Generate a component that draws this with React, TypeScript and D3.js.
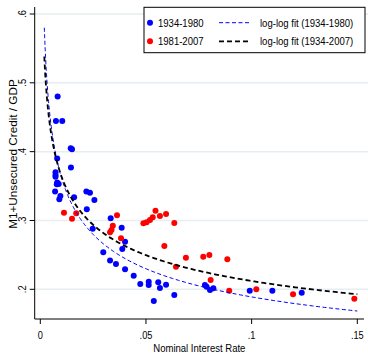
import React from "react";
import * as d3 from "d3";

const W = 368;
const H = 354;

// 1934-1980 (blue)
const blueX = [0.0082, 0.0074, 0.0104, 0.0144, 0.015, 0.008, 0.0145, 0.0072, 0.0072, 0.0072, 0.008, 0.0087, 0.0078, 0.007, 0.0095, 0.009, 0.016, 0.0218, 0.0235, 0.0256, 0.022, 0.0333, 0.0385, 0.0248, 0.0401, 0.0388, 0.0298, 0.033, 0.0358, 0.0401, 0.0442, 0.0473, 0.0513, 0.0513, 0.0558, 0.0566, 0.0537, 0.0595, 0.0634, 0.0779, 0.0787, 0.0803, 0.0819, 0.0991, 0.1098, 0.1237];
const blueY = [0.48, 0.4446, 0.4446, 0.405, 0.4035, 0.39, 0.3768, 0.37, 0.366, 0.3637, 0.355, 0.353, 0.3526, 0.342, 0.3356, 0.3308, 0.3337, 0.342, 0.3404, 0.3298, 0.3163, 0.3032, 0.2895, 0.288, 0.269, 0.2586, 0.254, 0.242, 0.2368, 0.229, 0.2198, 0.2077, 0.211, 0.2063, 0.2102, 0.2019, 0.183, 0.2067, 0.1917, 0.2063, 0.2038, 0.199, 0.2015, 0.198, 0.198, 0.195];

// 1981-2007 (red)
const redX = [0.0112, 0.015, 0.017, 0.0363, 0.0343, 0.0337, 0.033, 0.0382, 0.0488, 0.0503, 0.0519, 0.0532, 0.0545, 0.0566, 0.0595, 0.0634, 0.0587, 0.0642, 0.0689, 0.0771, 0.08, 0.0885, 0.0806, 0.0894, 0.1022, 0.1196, 0.1486];
const redY = [0.3113, 0.3026, 0.3105, 0.3076, 0.2925, 0.286, 0.2828, 0.2741, 0.2959, 0.2975, 0.3007, 0.3047, 0.3142, 0.3065, 0.3094, 0.2965, 0.263, 0.2329, 0.246, 0.2474, 0.2499, 0.2436, 0.2135, 0.198, 0.2, 0.1927, 0.1863];

// log-log fits: ln(y) = a + b ln(x)
const fitBlue = { a: -2.318, b: -0.283 };
const fitAll = { a: -2.092, b: -0.235 };
const fitRange = [0.0019, 0.15];

const xTicks = [0, 0.05, 0.1, 0.15];
const xTickLabels = ["0", ".05", ".1", ".15"];
const yTicks = [0.2, 0.3, 0.4, 0.5, 0.6];
const yTickLabels = [".2", ".3", ".4", ".5", ".6"];

const FONT = "'Liberation Sans', Arial, sans-serif";
const SX = 0.83;

function T(props: { x: number; y: number; rot?: boolean; sx?: number; anchor?: string; size?: number; children: React.ReactNode }) {
  const { x, y, rot, sx = SX, anchor = "start", size = 11.5, children } = props;
  const tr = `translate(${x},${y})${rot ? " rotate(-90)" : ""} scale(${sx},1)`;
  return (
    <text transform={tr} textAnchor={anchor} fontSize={size} fill="#000">
      {children}
    </text>
  );
}

export default function App() {
  const x = d3.scaleLinear().domain([0, 0.15]).range([40.3, 357.3]);
  const y = d3.scaleLinear().domain([0.2, 0.6]).range([289.3, 14]);
  const xLeft = 34.7;
  const xRight = 364;
  const yBottom = 319;
  const yTop = 7;

  const curve = (f: { a: number; b: number }) => {
    const xs = d3.range(0, 201).map((i) => {
      const t = i / 200;
      return Math.exp(Math.log(fitRange[0]) + t * (Math.log(fitRange[1]) - Math.log(fitRange[0])));
    });
    return d3
      .line<number>()
      .x((d) => x(d))
      .y((d) => y(Math.exp(f.a + f.b * Math.log(d))))(xs) as string;
  };

  return (
    <svg width={W} height={H} style={{ position: "absolute", left: 0, top: 0, background: "#fff" }} fontFamily={FONT}>
      <rect x={0} y={0} width={W} height={H} fill="#fff" />
      {yTicks.map((t) => (
        <line key={"g" + t} x1={xLeft} x2={W} y1={y(t)} y2={y(t)} stroke="#e6eef1" strokeWidth={1.5} />
      ))}
      {blueX.map((v, i) => (
        <circle key={"b" + i} cx={x(v)} cy={y(blueY[i])} r={3} fill="#0000ff" />
      ))}
      {redX.map((v, i) => (
        <circle key={"r" + i} cx={x(v)} cy={y(redY[i])} r={3} fill="#ff0000" />
      ))}
      <path d={curve(fitBlue)} fill="none" stroke="#0000ff" strokeWidth={1} strokeDasharray="4,2.5" />
      <path d={curve(fitAll)} fill="none" stroke="#000" strokeWidth={1.8} strokeDasharray="5,3" />
      <line x1={xLeft} x2={xLeft} y1={yTop} y2={yBottom} stroke="#000" strokeWidth={1} />
      <line x1={xLeft} x2={xRight} y1={yBottom} y2={yBottom} stroke="#000" strokeWidth={1} />
      {yTicks.map((t, i) => (
        <g key={"yt" + t}>
          <line x1={xLeft - 5} x2={xLeft} y1={y(t)} y2={y(t)} stroke="#000" />
          <T x={26} y={y(t)} rot anchor="middle" sx={0.8}>
            {yTickLabels[i]}
          </T>
        </g>
      ))}
      {xTicks.map((t, i) => (
        <g key={"xt" + t}>
          <line x1={x(t)} x2={x(t)} y1={yBottom} y2={yBottom + 5} stroke="#000" />
          <T x={x(t)} y={338.5} anchor="middle" sx={0.8}>
            {xTickLabels[i]}
          </T>
        </g>
      ))}
      <T x={(xLeft + xRight) / 2} y={351.5} anchor="middle">
        Nominal Interest Rate
      </T>
      <T x={17} y={154} rot anchor="middle" sx={1.02}>
        M1+Unsecured Credit / GDP
      </T>
      {/* legend */}
      <rect x={144} y={7.3} width={221} height={45.4} fill="#fff" stroke="#000" strokeWidth={1} />
      <circle cx={150} cy={22.7} r={3} fill="#0000ff" />
      <T x={158} y={26.8}>1934-1980</T>
      <line x1={219} x2={250} y1={22.7} y2={22.7} stroke="#0000ff" strokeWidth={1} strokeDasharray="4,2.5" />
      <T x={260} y={26.8}>log-log fit (1934-1980)</T>
      <circle cx={150} cy={41.3} r={3} fill="#ff0000" />
      <T x={158} y={45.4}>1981-2007</T>
      <line x1={219} x2={250} y1={41.3} y2={41.3} stroke="#000" strokeWidth={1.8} strokeDasharray="5,3" />
      <T x={260} y={45.4}>log-log fit (1934-2007)</T>
    </svg>
  );
}
